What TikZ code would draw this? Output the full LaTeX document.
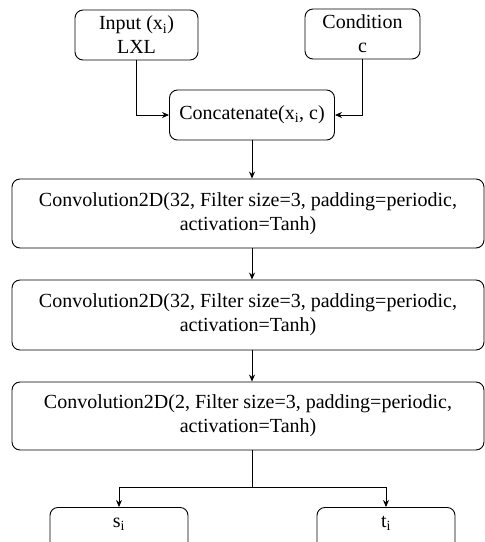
\documentclass[tikz,border=0pt]{standalone}
\usepackage{fontspec}
\setmainfont{Liberation Serif}
\usetikzlibrary{positioning, arrows.meta, calc}

\begin{document}
\begin{tikzpicture}[
  x=1pt, y=-1pt,
  box/.style={rectangle, rounded corners=8pt, draw, line width=0.9pt,
              inner sep=0pt, align=center,
              font=\fontsize{20}{24}\selectfont},
  outbox/.style={box, minimum width=138pt, text height=20pt, text depth=40pt,
                 anchor=north},
  arr/.style={-{Stealth[length=7pt, width=6pt]}, line width=0.9pt}
]
  \clip (0,0) rectangle (485,542);
  \node[box, minimum width=123pt, minimum height=50pt] (input) at (136.5,35)
       {Input (x\textsubscript{i})\\LXL};
  \node[box, minimum width=115pt, minimum height=50pt] (cond)  at (362.5,34)
       {Condition\\c};
  \node[box, minimum width=165pt, minimum height=50pt] (concat) at (252,115)
       {Concatenate(x\textsubscript{i}, c)};
  \node[box, minimum width=472pt, minimum height=69pt] (convA) at (248,213.5)
       {Convolution2D(32, Filter size=3, padding=periodic,\\activation=Tanh)};
  \node[box, minimum width=472pt, minimum height=70pt] (convB) at (248,315)
       {Convolution2D(32, Filter size=3, padding=periodic,\\activation=Tanh)};
  \node[box, minimum width=472pt, minimum height=68pt] (convC) at (248,416)
       {Convolution2D(2, Filter size=3, padding=periodic,\\activation=Tanh)};
  \node[outbox] (sout) at (119,507) {s\textsubscript{i}};
  \node[outbox] (tout) at (386,507) {t\textsubscript{i}};

  \coordinate (split) at (252,487);

  \draw[arr] (input.south) |- (concat.west);
  \draw[arr] (cond.south) |- (concat.east);
  \draw[arr] (concat.south) -- (concat.south |- convA.north);
  \draw[arr] (convA.south -| concat.south) -- (convB.north -| concat.south);
  \draw[arr] (convB.south -| concat.south) -- (convC.north -| concat.south);
  \draw[line width=0.9pt] (convC.south -| split) -- (split);
  \draw[arr] (split) -| (sout.north);
  \draw[arr] (split) -| (tout.north);
\end{tikzpicture}
\end{document}
